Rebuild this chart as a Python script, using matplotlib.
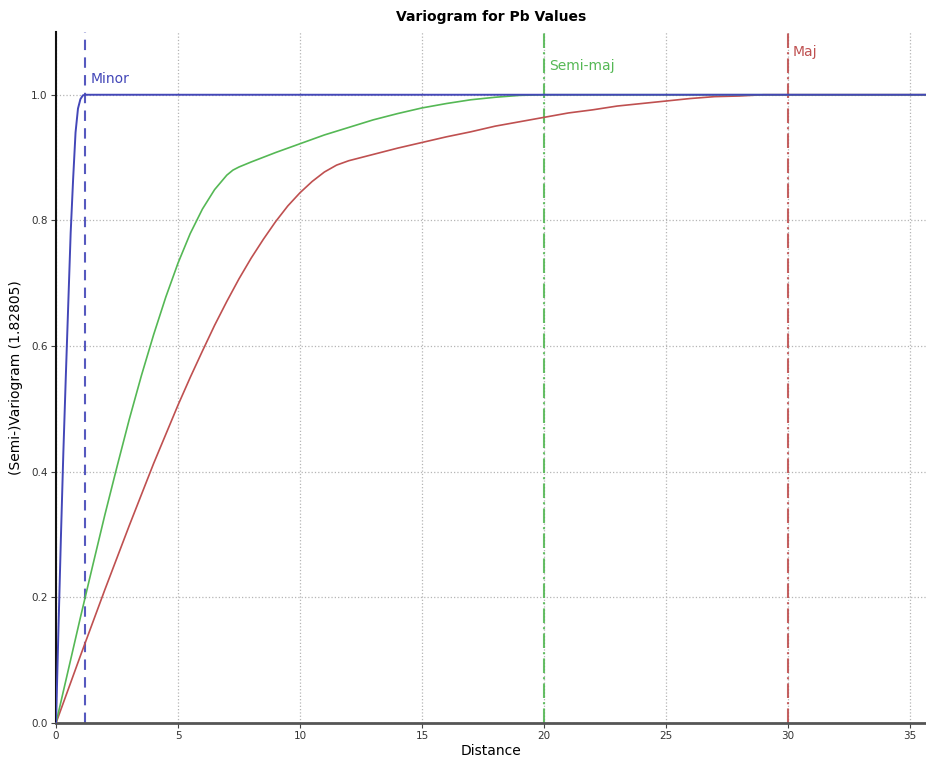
import matplotlib

matplotlib.use("Agg")
import matplotlib.pyplot as plt

# modelled variogram, normalised by the sill (1.82805), along three directions
minor_dist = [0.0, 0.1, 0.2, 0.3, 0.4, 0.5, 0.6, 0.7, 0.8, 0.9, 1.0, 1.1, 1.2, 35.7]
minor_gamma = [0.0, 0.15, 0.295, 0.43, 0.55, 0.665, 0.78, 0.865, 0.94, 0.978, 0.993, 0.999, 1.0, 1.0]

semi_dist = [0.0, 0.5, 1.0, 1.5, 2.0, 2.5, 3.0, 3.5, 4.0, 4.5, 5.0, 5.5, 6.0, 6.5, 7.0,
             7.25, 7.5, 7.75, 8.0, 9.0, 10.0, 11.0, 12.0, 13.0, 14.0, 15.0, 16.0, 17.0,
             18.0, 19.0, 20.0, 35.7]
semi_gamma = [0.0, 0.084, 0.168, 0.25, 0.331, 0.408, 0.483, 0.553, 0.618, 0.678, 0.732,
              0.779, 0.818, 0.849, 0.872, 0.88, 0.885, 0.889, 0.893, 0.908, 0.922, 0.936,
              0.948, 0.96, 0.97, 0.979, 0.986, 0.992, 0.996, 0.999, 1.0, 1.0]

major_dist = [0.0, 1.0, 2.0, 3.0, 4.0, 5.0, 5.5, 6.0, 6.5, 7.0, 7.5, 8.0, 8.5, 9.0, 9.5,
              10.0, 10.5, 11.0, 11.5, 12.0, 12.5, 13.0, 14.0, 15.0, 16.0, 17.0, 18.0,
              19.0, 20.0, 21.0, 22.0, 23.0, 24.0, 25.0, 26.0, 27.0, 28.0, 29.0, 30.0, 35.7]
major_gamma = [0.0, 0.107, 0.212, 0.314, 0.413, 0.506, 0.55, 0.592, 0.633, 0.671, 0.707,
               0.74, 0.77, 0.798, 0.823, 0.844, 0.862, 0.877, 0.888, 0.895, 0.9, 0.905,
               0.915, 0.924, 0.933, 0.941, 0.95, 0.957, 0.964, 0.971, 0.976, 0.982,
               0.986, 0.99, 0.994, 0.997, 0.998, 1.0, 1.0, 1.0]

ranges = [1.2, 20.0, 30.0]
range_labels = ["Minor", "Semi-maj", "Maj"]
label_heights = [1.025, 1.045, 1.068]

BLUE = "#4347b8"
GREEN = "#55b855"
RED = "#bf5050"
colors = [BLUE, GREEN, RED]
range_dashes = [(5, 3.5), (7, 2, 1, 2), (7, 2, 1, 2)]

fig = plt.figure(figsize=(9.26, 7.6), dpi=100, facecolor="white")
ax = fig.add_axes([0.0605, 0.0487, 0.9395, 0.9093])

ax.grid(True, linestyle=":", color="#b5b5b5", linewidth=0.9)
ax.set_axisbelow(True)

ax.plot(major_dist, major_gamma, color=RED, linewidth=1.2, zorder=3)
ax.plot(semi_dist, semi_gamma, color=GREEN, linewidth=1.2, zorder=3)
ax.plot(minor_dist, minor_gamma, color=BLUE, linewidth=1.4, zorder=4)

for rng, lab, h, col, dash in zip(ranges, range_labels, label_heights, colors, range_dashes):
    ax.axvline(rng, color=col, dashes=dash, linewidth=1.5, alpha=0.9, zorder=2)
    ax.text(rng + 0.2, h, lab, color=col, fontsize=10, ha="left", va="center")

ax.set_xlim(0, 35.66)
ax.set_ylim(0, 1.1)
ax.set_xticks([0, 5, 10, 15, 20, 25, 30, 35])
ax.set_yticks([0.0, 0.2, 0.4, 0.6, 0.8, 1.0])
ax.set_yticklabels(["0.0", "0.2", "0.4", "0.6", "0.8", "1.0"])

ax.spines["top"].set_visible(False)
ax.spines["right"].set_visible(False)
ax.spines["left"].set_color("#111111")
ax.spines["left"].set_linewidth(1.5)
ax.spines["bottom"].set_color("#555555")
ax.spines["bottom"].set_linewidth(2.0)
ax.tick_params(axis="both", labelsize=7.5, length=3.5, width=0.8, pad=2.5,
               color="#444444", labelcolor="#333333")

ax.set_title("Variogram for Pb Values", fontsize=10, fontweight="bold", pad=8)
ax.set_xlabel("Distance", fontsize=10, labelpad=2)
ax.set_ylabel("(Semi-)Variogram (1.82805)", fontsize=10, labelpad=6)

fig.savefig("out.png", dpi=100, facecolor="white")
